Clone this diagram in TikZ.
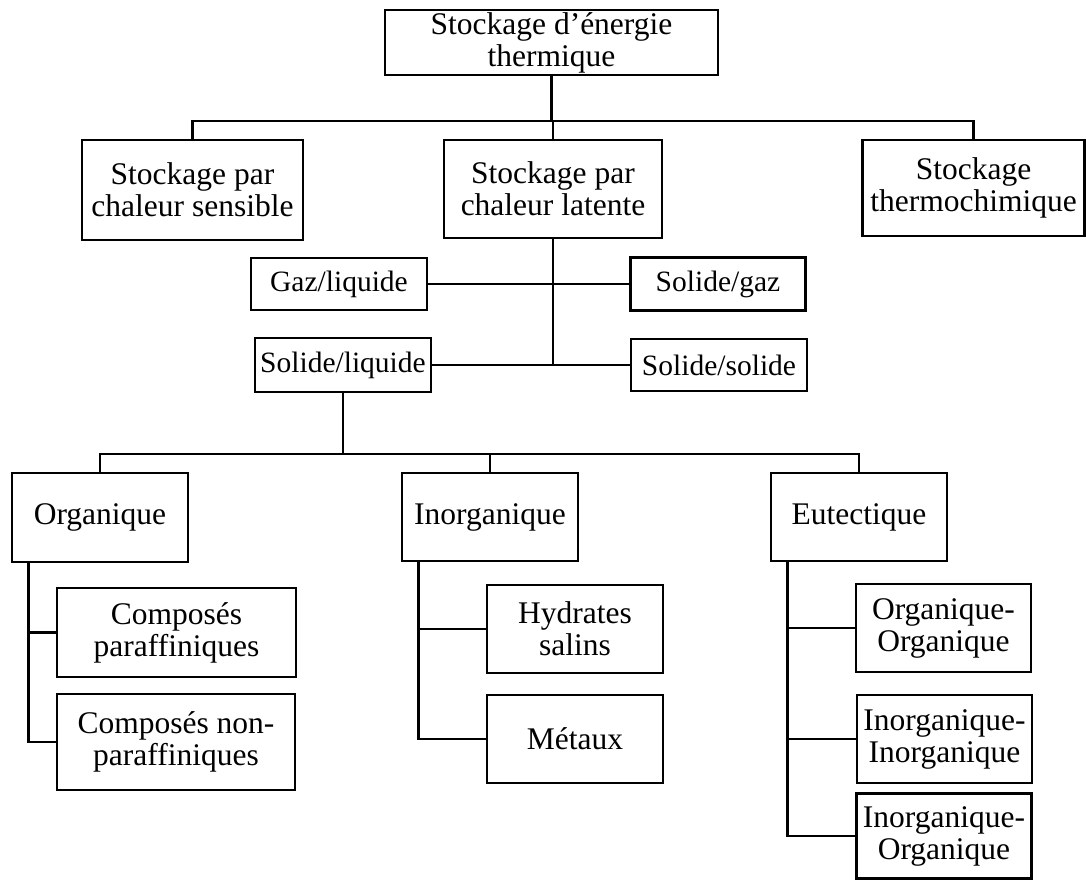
\documentclass[tikz,border=0pt]{standalone}
\usepackage{fontspec}
\setmainfont{Liberation Serif}
\usepackage{tikz}
\usetikzlibrary{positioning}

\tikzset{
	bigbox/.style={draw, line width=2.6pt, inner sep=0pt, align=center, font=\fontsize{31.5}{32}\selectfont},
	smallbox/.style={draw, line width=2.6pt, inner sep=0pt, align=center, font=\fontsize{29.5}{30}\selectfont},
	link/.style={line width=2.6pt}
}

\begin{document}
\begin{tikzpicture}[x=1pt, y=-1pt]
			%%%%% START %%%%%
			
			\useasboundingbox (0, 0) rectangle (1086, 879);
			
			\node[bigbox, minimum width=333, minimum height=65] (top) at (551.5, 42.5) {Stockage d'énergie\\thermique};
			
			\node[bigbox, minimum width=221, minimum height=100] (sens) at (192.5, 190) {Stockage par\\chaleur sensible};
			\node[bigbox, minimum width=218, minimum height=98] (lat) at (553, 189) {Stockage par\\chaleur latente};
			\node[bigbox, minimum width=222, minimum height=96] (thermo) at (973.5, 188) {Stockage\\thermochimique};
			
			\node[smallbox, minimum width=176, minimum height=52] (gaz) at (339, 284) {Gaz/liquide};
			\node[smallbox, minimum width=175, minimum height=53] (solgaz) at (718, 284) {Solide/gaz};
			\node[smallbox, minimum width=176, minimum height=54] (solliq) at (343, 365) {Solide/liquide};
			\node[smallbox, minimum width=176, minimum height=52] (solsol) at (719, 365) {Solide/solide};
			
			\node[bigbox, minimum width=176, minimum height=89] (org) at (100, 517.5) {Organique};
			\node[bigbox, minimum width=176, minimum height=88] (inorg) at (490, 517) {Inorganique};
			\node[bigbox, minimum width=176, minimum height=88] (eut) at (859, 517) {Eutectique};
			
			\node[bigbox, minimum width=239, minimum height=89] (cpar) at (176.5, 632.5) {Composés\\paraffiniques};
			\node[bigbox, minimum width=238, minimum height=96] (cnonpar) at (176, 742) {Composés non-\\paraffiniques};
			
			\node[bigbox, minimum width=176, minimum height=88] (hyd) at (575, 629) {Hydrates\\salins};
			\node[bigbox, minimum width=176, minimum height=88] (met) at (575, 739) {Métaux};
			
			\node[bigbox, minimum width=175, minimum height=88] (oo) at (943.5, 628) {Organique-\\Organique};
			\node[bigbox, minimum width=175, minimum height=88] (ii) at (944.5, 739) {Inorganique-\\Inorganique};
			\node[bigbox, minimum width=175, minimum height=85] (io) at (944, 836) {Inorganique-\\Organique};
			
			% first level
			\coordinate (j1) at (551.5, 121);
			\draw[link] (top.south) -- (j1);
			\draw[link] (sens.north) |- (j1) -| (thermo.north);
			\draw[link] (j1) -- (j1 -| lat.north) -- (lat.north);
			
			% phase changes
			\coordinate (j2) at (lat.south |- solliq.east);
			\draw[link] (lat.south) -- (j2);
			\draw[link] (gaz.east) -- (solgaz.west);
			\draw[link] (solliq.east) -- (solsol.west);
			
			% solid/liquid materials
			\coordinate (j3) at (343, 454);
			\draw[link] (solliq.south) -- (j3);
			\draw[link] (org.north) |- (j3) -| (eut.north);
			\draw[link] (j3) -| (inorg.north);
			
			% sub-branches
			\coordinate (s1) at ([xshift=18pt]org.south west);
			\draw[link] (s1) |- (cpar.west);
			\draw[link] (s1) |- (cnonpar.west);
			
			\coordinate (s2) at ([xshift=18pt]inorg.south west);
			\draw[link] (s2) |- (hyd.west);
			\draw[link] (s2) |- (met.west);
			
			\coordinate (s3) at ([xshift=18pt]eut.south west);
			\draw[link] (s3) |- (oo.west);
			\draw[link] (s3) |- (ii.west);
			\draw[link] (s3) |- (io.west);
			
			%%%%% END %%%%%
		\end{tikzpicture}
\end{document}
